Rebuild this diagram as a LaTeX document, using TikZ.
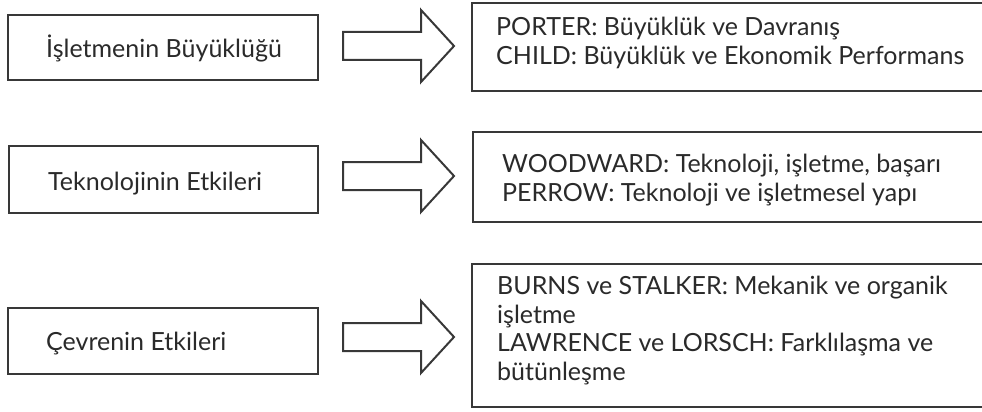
\documentclass[tikz,border=0pt]{standalone}
\usepackage{fontspec}
\setmainfont{Lato}
\definecolor{ink}{HTML}{2A2A2A}
\definecolor{frame}{HTML}{383838}
\begin{document}
\begin{tikzpicture}[x=1pt,y=-1pt,
  box/.style={draw=frame, line width=2pt, fill=white, inner sep=0pt},
  lbl/.style={text=ink, font=\fontsize{25}{28.5}\selectfont, inner sep=0pt, anchor=base west, align=left},
  blockarrow/.style={draw=frame, line width=2pt, fill=white, line join=miter}]
\useasboundingbox (0,0) rectangle (982,412);
\clip (0,0) rectangle (982,412);

% left column: topics
\node[box, minimum width=310pt, minimum height=65pt] (s1) at (163,47.5) {};
\node[box, minimum width=309pt, minimum height=67pt] (s2) at (163.5,179.5) {};
\node[box, minimum width=310pt, minimum height=66pt] (s3) at (163,341) {};

\node[lbl] (s1t) at (46,57) {İşletmenin Büyüklüğü};
\node[lbl] (s2t) at (48,190) {Teknolojinin Etkileri};
\node[lbl] (s3t) at (46,350) {Çevrenin Etkileri};

% right column: studies (boxes run off the right edge)
\node[box, minimum width=530pt, minimum height=88pt] (r1) at (737,47) {};
\node[box, minimum width=530pt, minimum height=90pt] (r2) at (738,177) {};
\node[box, minimum width=530pt, minimum height=143pt] (r3) at (737,335.5) {};

% multi-line labels are placed by the baseline of their last line
\node[lbl] (r1t) at (496,64) {PORTER: Büyüklük ve Davranış\\CHILD: Büyüklük ve Ekonomik Performans};
\node[lbl] (r2t) at (502,201) {WOODWARD: Teknoloji, işletme, başarı\\PERROW: Teknoloji ve işletmesel yapı};
\node[lbl] (r3t) at (497,380) {BURNS ve STALKER: Mekanik ve organik\\işletme\\LAWRENCE ve LORSCH: Farklılaşma ve\\bütünleşme};

% block arrows between the columns
\foreach \i/\yc in {1/46, 2/176, 3/337} {
  \coordinate (a\i) at (343,\yc);
  \draw[blockarrow] (a\i) ++(0,-14) -- ++(78,0) -- ++(0,-22) -- (454,\yc) -- (421,\yc+36) -- ++(0,-22) -- ++(-78,0) -- cycle;
}
\end{tikzpicture}
\end{document}
